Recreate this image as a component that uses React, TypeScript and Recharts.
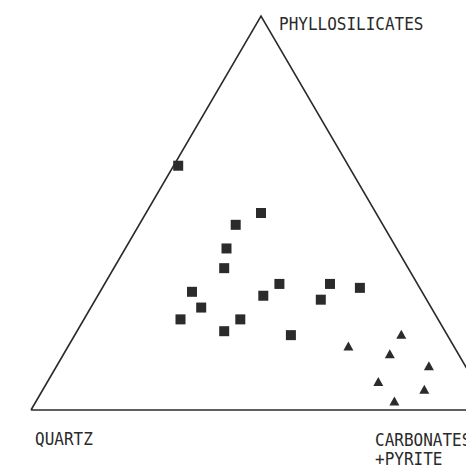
import { ScatterChart, Scatter, XAxis, YAxis } from "recharts";

// ternary compositions in percent: quartz / phyllosilicates / carbonates+pyrite
const squareQuartz = [37, 25, 32, 37, 40, 30, 50, 19, 13, 35, 50, 23, 56, 43, 48, 34];
const squarePhyllo = [62, 50, 47, 41, 36, 32, 30, 32, 31, 29, 26, 28, 23, 23, 20, 19];
const squareCarb = [1, 25, 21, 22, 24, 38, 20, 49, 56, 36, 24, 49, 21, 34, 32, 47];

const triQuartz = [23, 10, 15, 8, 21, 12, 20];
const triPhyllo = [16, 19, 14, 11, 7, 5, 2];
const triCarb = [61, 71, 71, 81, 72, 83, 78];

const cornerLabels = ["QUARTZ", "PHYLLOSILICATES", "CARBONATES", "+PYRITE"];

const H = Math.sqrt(3) / 2;

function toXY(q: number[], p: number[], c: number[]) {
  return q.map((_, i) => {
    const sum = q[i] + p[i] + c[i];
    const pf = p[i] / sum;
    const cf = c[i] / sum;
    return { x: cf + pf / 2, y: pf * H };
  });
}

const squares = toXY(squareQuartz, squarePhyllo, squareCarb);
const triangles = toXY(triQuartz, triPhyllo, triCarb);
const outline = [
  { x: 0, y: 0 },
  { x: 0.5, y: H },
  { x: 1, y: 0 },
  { x: 0, y: 0 },
];

const ink = "#2b2b2b";

const SquareMark = (props: any) => {
  const { cx, cy } = props;
  return <rect x={cx - 5} y={cy - 5} width={10} height={10} fill={ink} />;
};

const TriMark = (props: any) => {
  const { cx, cy } = props;
  return (
    <polygon
      points={`${cx},${cy - 5.5} ${cx + 5},${cy + 3.5} ${cx - 5},${cy + 3.5}`}
      fill={ink}
    />
  );
};

const labelStyle: React.CSSProperties = {
  position: "absolute",
  fontFamily: "'DejaVu Sans Mono', monospace",
  fontSize: 16,
  lineHeight: "17px",
  color: "#2a2a2a",
  whiteSpace: "pre",
  transform: "scaleY(1.12)",
  transformOrigin: "left bottom",
};

export default function App() {
  return (
    <div
      style={{
        position: "absolute",
        left: 0,
        top: 0,
        width: 466,
        height: 469,
        overflow: "hidden",
        background: "#fff",
      }}
    >
      <ScatterChart
        width={520}
        height={469}
        margin={{ top: 16, left: 31, right: 29, bottom: 59 }}
      >
        <XAxis type="number" dataKey="x" domain={[0, 1]} hide />
        <YAxis type="number" dataKey="y" domain={[0, H]} hide />
        <Scatter
          data={outline}
          line={{ stroke: ink, strokeWidth: 1.6 }}
          shape={() => <g />}
          isAnimationActive={false}
        />
        <Scatter data={squares} shape={SquareMark} isAnimationActive={false} />
        <Scatter data={triangles} shape={TriMark} isAnimationActive={false} />
      </ScatterChart>
      <div style={{ ...labelStyle, left: 279, top: 16 }}>{cornerLabels[1]}</div>
      <div style={{ ...labelStyle, left: 35, top: 431 }}>{cornerLabels[0]}</div>
      <div style={{ ...labelStyle, left: 375, top: 434 }}>
        {cornerLabels[2] + "\n" + cornerLabels[3]}
      </div>
    </div>
  );
}
